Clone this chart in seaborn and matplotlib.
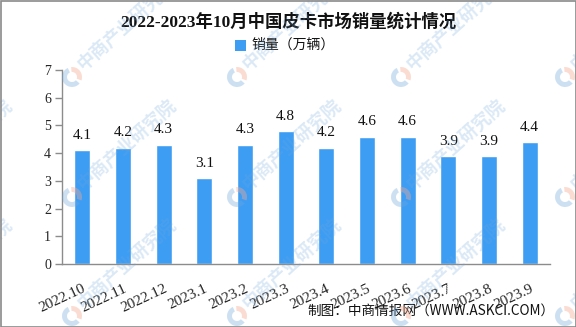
import matplotlib
matplotlib.use("Agg")
import matplotlib.pyplot as plt
from matplotlib.patches import Wedge, Rectangle
import seaborn as sns
import pandas as pd

# Monthly pickup sales, 10k units
months = ["2022.10", "2022.11", "2022.12", "2023.1", "2023.2", "2023.3",
          "2023.4", "2023.5", "2023.6", "2023.7", "2023.8", "2023.9"]
sales = [4.1, 4.2, 4.3, 3.1, 4.3, 4.8, 4.2, 4.6, 4.6, 3.9, 3.9, 4.4]
y_ticks = [0, 1, 2, 3, 4, 5, 6, 7]

title = "2022-2023年10月中国皮卡市场销量统计情况"
legend_label = "销量（万辆）"
footer = "制图：中商情报网（WWW.ASKCI.COM）"
watermark = "中商产业研究院"

sns.set_theme(style="white")
plt.rcParams["font.family"] = ["Liberation Serif", "Noto Sans CJK SC", "DejaVu Sans"]

W, H = 576, 327
fig = plt.figure(figsize=(W / 100, H / 100), dpi=100)
fig.patch.set_facecolor("white")

ax = fig.add_axes([62 / W, 1 - 264 / H, (550 - 62) / W, (264 - 70) / H])
df = pd.DataFrame({"month": months, "sales": sales})
bar_color = "#3d9df3"
sns.barplot(data=df, x="month", y="sales", color=bar_color, width=0.39,
            saturation=1, ax=ax, zorder=2)

ax.set_xlim(-0.5, len(months) - 0.5)
ax.set_ylim(0, 7)
ax.set_yticks(y_ticks)
ax.set_xlabel("")
ax.set_ylabel("")

for sp in ["top", "right"]:
    ax.spines[sp].set_visible(False)
for sp in ["left", "bottom"]:
    ax.spines[sp].set_color("#8c8c8c")
    ax.spines[sp].set_linewidth(1.0)

# Value labels above each bar
for cont in ax.containers:
    ax.bar_label(cont, labels=[f"{v:.1f}" for v in sales], padding=6,
                 fontsize=11, family=["Liberation Serif"], color="#111111")

# Tick marks sit between categories; labels centred under bars
ax.set_xticks(range(len(months)))
ax.set_xticks([i - 0.5 for i in range(len(months) + 1)], minor=True)
ax.tick_params(axis="x", which="major", length=0, pad=13)
ax.tick_params(axis="x", which="minor", length=5, color="#8c8c8c", width=1, direction="out")
ax.tick_params(axis="y", which="major", length=5, color="#8c8c8c", width=1,
               direction="out", labelsize=10, pad=3, left=True)
ax.set_xticklabels(months, rotation=25, ha="right", rotation_mode="anchor",
                   fontsize=11, family=["Liberation Serif"])
for lab in ax.get_yticklabels():
    lab.set_family(["Liberation Serif"])

# Title and legend
fig.text(288 / W, 1 - 22 / H, title, ha="center", va="center", fontsize=12.5,
         fontweight="bold", family=["Liberation Serif", "Noto Sans CJK SC"], color="#111111")
fig.patches.append(Rectangle((235 / W, 1 - 51 / H), 11 / W, 11 / H,
                             transform=fig.transFigure, facecolor=bar_color,
                             edgecolor="none", zorder=3))
fig.text(251 / W, 1 - 45 / H, legend_label, ha="left", va="center", fontsize=10,
         family=["Noto Sans CJK SC"], color="#111111")

fig.text(555 / W, 1 - 311 / H, footer, ha="right", va="center", fontsize=9.8,
         family=["Noto Sans CJK SC"], color="#111111")

# Tiled watermark: logo + company name
wm_cols = [-92, 72, 237, 401, 565]
wm_rows = [77, 197, 316]
for cx in wm_cols:
    for cy in wm_rows:
        fx, fy = cx, H - cy
        fig.patches.append(Wedge((fx, fy), 10, -20, 95, width=5,
                                 transform=None, facecolor="#f4a98f",
                                 edgecolor="none", alpha=0.4, zorder=10))
        fig.patches.append(Wedge((fx, fy), 10, 115, 320, width=5,
                                 transform=None, facecolor="#6fa8dc",
                                 edgecolor="none", alpha=0.35, zorder=10))
        fig.text((cx + 8) / W, 1 - (cy - 10) / H, watermark, rotation=42,
                 ha="left", va="center", rotation_mode="anchor", fontsize=13,
                 family=["Noto Sans CJK SC"], fontweight="bold",
                 color="#6fa8dc", alpha=0.25, zorder=10)

# Outer frame
fig.patches.append(Rectangle((0.5, 0.5), W - 1, H - 1, transform=None,
                             facecolor="none", edgecolor="#8a8a8a",
                             linewidth=1.2, zorder=11))

fig.savefig("out.png", dpi=100)
